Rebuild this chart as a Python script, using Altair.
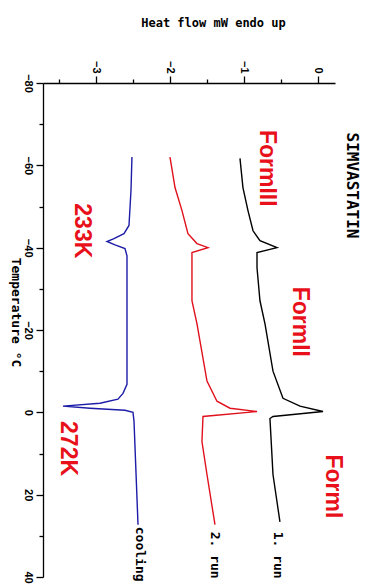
import altair as alt
import pandas as pd

# ---- data (temperature in °C, heat flow in mW, endo up) ----
run1_T = [-61.7, -54.6, -49.0, -44.1, -41.7, -40.0, -38.8, -35.1, -27.1, -21.5, -10.0, -3.4, -1.5, -0.2, 1.0, 1.5, 15.1, 26.6]
run1_H = [-1.054, -1.014, -0.946, -0.878, -0.784, -0.554, -0.824, -0.824, -0.784, -0.716, -0.608, -0.473, -0.243, 0.068, -0.608, -0.649, -0.608, -0.514]

run2_T = [-62.0, -54.6, -49.0, -43.4, -41.0, -40.0, -38.8, -27.1, -21.5, -7.6, -2.7, -1.0, -0.2, 1.0, 7.1, 15.1, 27.3]
run2_H = [-2.0, -1.932, -1.838, -1.757, -1.635, -1.486, -1.703, -1.703, -1.635, -1.5, -1.365, -1.189, -0.824, -1.554, -1.568, -1.5, -1.392]

cool_T = [-62.0, -53.9, -45.4, -43.4, -42.2, -41.5, -40.7, -39.8, -38.0, -27.1, -6.8, -4.6, -3.2, -2.2, -1.5, -1.0, -0.5, 0.0, 2.2, 27.3]
cool_H = [-2.514, -2.527, -2.554, -2.622, -2.757, -2.851, -2.743, -2.608, -2.581, -2.581, -2.581, -2.635, -2.703, -2.946, -3.446, -3.081, -2.608, -2.5, -2.486, -2.432]

series_names = ["1. run", "2. run", "cooling"]
series_colors = ["#000000", "#e0101c", "#1c1ca8"]

big_labels = ["FormIII", "FormII", "FormI", "233K", "272K"]
big_T = [-59.3, -22.0, 18.0, -44.1, 8.8]
big_H = [-0.689, -0.243, 0.203, -3.19, -3.38]

run_labels = ["1. run", "2. run", "cooling"]
run_label_T = [29.0, 29.0, 27.8]
run_label_H = [-0.54, -1.39, -2.41]

side_title = ["SIMVASTATIN"]
side_T = [-55.1]
side_H = [0.46]

temp_ticks = [-80, -70, -60, -50, -40, -30, -20, -10, 0, 10, 20, 30, 40]
heat_ticks = [-3.5, -3, -2.5, -2, -1.5, -1, -0.5, 0]

rows = []
for name, Ts, Hs in zip(series_names, [run1_T, run2_T, cool_T], [run1_H, run2_H, cool_H]):
    for i, (t, h) in enumerate(zip(Ts, Hs)):
        rows.append({"series": name, "idx": i, "T": t, "H": h})
curves = pd.DataFrame(rows)

big_df = pd.DataFrame({"text": big_labels, "T": big_T, "H": big_H})
run_df = pd.DataFrame({"text": run_labels, "T": run_label_T, "H": run_label_H})
side_df = pd.DataFrame({"text": side_title, "T": side_T, "H": side_H})

xscale = alt.Scale(domain=[-3.716, 0.23], nice=False, zero=False)
yscale = alt.Scale(domain=[-80, 40], nice=False, zero=False, reverse=True)

xaxis = alt.Axis(
    orient="top", values=heat_ticks, grid=False, format=".0f",
    labelExpr="datum.value % 1 === 0 ? datum.label : ''",
    tickSize={"condition": {"test": "datum.value % 1 === 0", "value": 7}, "value": 4},
    labelAngle=90, labelAlign="right", labelBaseline="middle", labelPadding=3,
    labelFont="Liberation Sans", labelFontWeight="bold", labelFontSize=11, labelColor="#000",
    domainColor="#000", tickColor="#000", domainWidth=1.3, tickWidth=1.3,
    title="Heat flow mW endo up", titleFont="DejaVu Sans Mono", titleFontWeight="bold",
    titleFontSize=12, titleColor="#000", titleAngle=0, titleAlign="center",
    titleBaseline="middle", titleX=170, titleY=-61,
)
yaxis = alt.Axis(
    orient="left", values=temp_ticks, grid=False, format="d",
    labelExpr="datum.value % 20 === 0 ? datum.label : ''",
    tickSize={"condition": {"test": "datum.value % 20 === 0", "value": 7}, "value": 4},
    labelAngle=90, labelAlign="center", labelBaseline="top", labelPadding=3,
    labelFont="Liberation Sans", labelFontWeight="bold", labelFontSize=11, labelColor="#000",
    domainColor="#000", tickColor="#000", domainWidth=1.3, tickWidth=1.3,
    title="Temperature °C", titleFont="DejaVu Sans Mono", titleFontWeight="bold",
    titleFontSize=13, titleColor="#000", titleAngle=90, titleAlign="center",
    titleBaseline="middle", titleX=-28, titleY=229,
)

lines = alt.Chart(curves).mark_line(strokeWidth=1.4, interpolate="linear").encode(
    x=alt.X("H:Q", scale=xscale, axis=xaxis),
    y=alt.Y("T:Q", scale=yscale, axis=yaxis),
    color=alt.Color("series:N", scale=alt.Scale(domain=series_names, range=series_colors), legend=None),
    order=alt.Order("idx:Q"),
)

big_text = alt.Chart(big_df).mark_text(
    angle=90, align="center", baseline="middle", font="Liberation Sans",
    fontWeight="bold", fontSize=23, color="#e8101a",
).encode(x=alt.X("H:Q", scale=xscale), y=alt.Y("T:Q", scale=yscale), text="text:N")

run_text = alt.Chart(run_df).mark_text(
    angle=90, align="left", baseline="middle", font="DejaVu Sans Mono",
    fontWeight="bold", fontSize=13, color="#000",
).encode(x=alt.X("H:Q", scale=xscale), y=alt.Y("T:Q", scale=yscale), text="text:N")

side_text = alt.Chart(side_df).mark_text(
    angle=90, align="center", baseline="middle", font="DejaVu Sans Mono",
    fontWeight="bold", fontSize=16, color="#000",
).encode(x=alt.X("H:Q", scale=xscale), y=alt.Y("T:Q", scale=yscale), text="text:N")

chart = alt.layer(lines, big_text, run_text, side_text).properties(
    width=292, height=494,
    autosize=alt.AutoSizeParams(type="none"),
    padding={"left": 43, "top": 83, "right": 38, "bottom": 10},
    background="white",
).configure_view(stroke=None)

chart.save("out.html", embed_options={"renderer": "svg", "actions": False})
